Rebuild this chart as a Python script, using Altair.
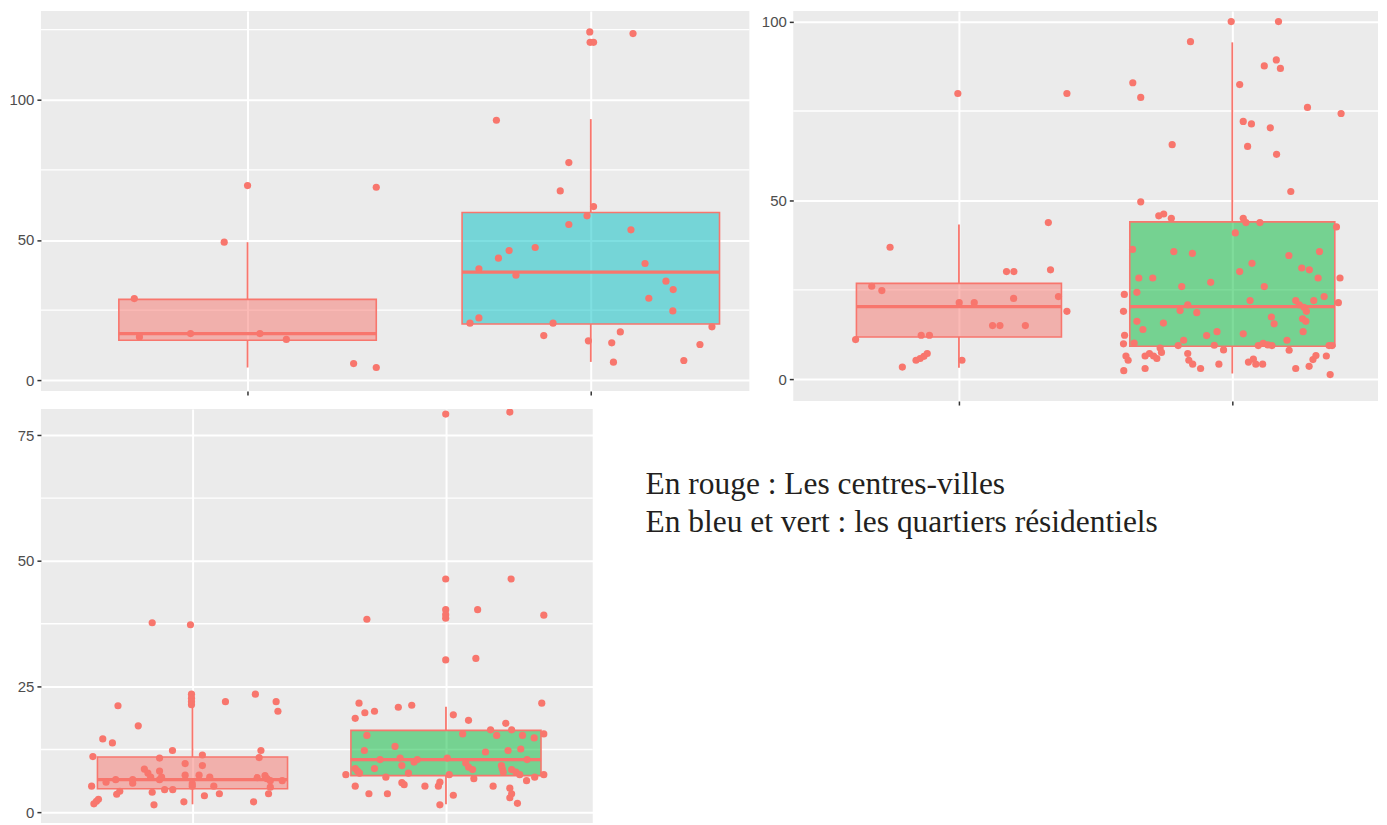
import altair as alt
import pandas as pd

RED = "#F8766D"
CYAN = "#00BFC4"
GREEN = "#00BA38"
GROUPS = ["Centre-ville", "Résidentiel"]
BOX_HALF = 0.375  # ggplot boxplot width 0.75

# ---------------- Panel 1 (top left) ----------------
p1_cv_jit = [0.0, 0.375, -0.068, -0.33, -0.315, -0.166, 0.036, 0.113, 0.309, 0.375]
p1_cv_val = [69.4, 68.8, 49.2, 29.1, 15.4, 16.6, 16.6, 14.5, 5.9, 4.5]
p1_rs_jit = [-0.003, -0.002, 0.008, 0.123, -0.275, -0.064, -0.089, 0.008, -0.011, -0.064,
             0.117, -0.162, -0.238, -0.269, -0.326, -0.218, 0.158, 0.219, 0.240, 0.169,
             0.239, -0.326, -0.352, -0.110, 0.353, -0.137, 0.086, -0.007, 0.061, 0.318,
             0.066, 0.271]
p1_rs_val = [124.2, 120.5, 120.5, 123.6, 92.7, 77.6, 67.5, 61.9, 58.6, 55.5,
             53.6, 47.3, 46.2, 43.5, 39.7, 37.4, 41.6, 35.3, 32.3, 29.2,
             24.7, 22.2, 20.3, 20.3, 19.0, 15.9, 17.2, 14.0, 13.3, 12.7,
             6.4, 7.0]
p1_q1 = [14.2, 20.0]
p1_med = [16.6, 38.5]
p1_q3 = [28.8, 59.8]
p1_lo = [4.5, 6.5]
p1_hi = [49.2, 93.1]

# ---------------- Panel 2 (top right) ----------------
p2_cv_jit = [-0.004, 0.395, -0.252, 0.327, -0.319, -0.282, 0.174, 0.201, 0.335, 0.364,
             0.2, 0.001, 0.056, 0.395, -0.378, -0.138, -0.108, 0.123, 0.150, 0.243,
             -0.207, -0.157, -0.142, -0.128, -0.116, 0.011]
p2_cv_val = [79.9, 79.9, 36.9, 43.8, 26.0, 24.8, 30.1, 30.1, 30.6, 23.1,
             22.6, 21.4, 21.4, 19.0, 11.1, 12.3, 12.3, 15.0, 15.0, 15.0,
             3.4, 5.3, 5.8, 6.4, 7.2, 5.3]
p2_rs_jit = [-0.004, 0.169, -0.153, 0.161, 0.117, 0.176, -0.364, -0.335, 0.027, 0.275,
             0.398, 0.040, 0.070, 0.139, -0.220, 0.056, 0.162, 0.214, -0.335, -0.269,
             -0.251, -0.223, 0.040, 0.050, 0.101, 0.011, 0.381, -0.365, -0.214, -0.146,
             0.207, 0.319, 0.072, 0.254, 0.282, 0.027, 0.314, -0.342, -0.291, 0.394,
             -0.079, -0.185, 0.117, -0.395, -0.349, 0.336, 0.388, 0.065, 0.232, 0.245,
             0.262, 0.271, 0.298, -0.163, -0.191, -0.130, -0.398, 0.143, 0.153, 0.257,
             0.269, -0.349, -0.252, -0.327, -0.056, -0.094, 0.040, 0.259, -0.394, -0.398,
             -0.359, -0.178, -0.198, 0.200, -0.066, -0.032, 0.095, 0.113, 0.130, 0.145,
             0.208, 0.354, 0.365, -0.264, -0.259, -0.389, -0.381, -0.397, -0.319, -0.303,
             -0.288, -0.276, -0.319, -0.163, -0.159, -0.145, -0.116, -0.049, 0.059, 0.077,
             0.086, 0.111, 0.232, 0.281, 0.295, 0.306, 0.344, 0.358]
p2_rs_val = [100.0, 100.0, 94.4, 89.3, 87.6, 86.9, 82.9, 78.8, 82.4, 76.0,
             74.3, 72.1, 71.4, 70.3, 65.6, 65.1, 62.9, 52.5, 49.6, 45.7,
             46.2, 45.0, 45.0, 43.8, 43.8, 40.9, 42.6, 36.3, 35.7, 35.2,
             34.6, 35.7, 32.4, 31.1, 30.6, 30.1, 28.3, 28.3, 28.3, 28.3,
             27.1, 25.9, 25.9, 23.7, 24.3, 23.1, 21.4, 22.0, 22.0, 20.8,
             20.1, 19.0, 22.0, 20.8, 19.2, 18.6, 19.0, 17.4, 15.5, 16.9,
             16.2, 16.2, 15.7, 13.9, 13.3, 12.2, 12.7, 13.3, 12.3, 9.9,
             10.1, 10.9, 9.4, 10.9, 9.5, 8.2, 9.4, 10.0, 9.6, 9.4,
             8.1, 9.4, 9.4, 8.7, 7.5, 6.5, 5.3, 2.4, 6.5, 7.2,
             6.5, 5.8, 3.0, 7.2, 5.3, 4.2, 3.0, 4.2, 4.8, 5.6,
             4.2, 4.2, 3.0, 3.6, 5.5, 6.6, 6.5, 1.3]
p2_q1 = [11.8, 9.2]
p2_med = [20.3, 20.3]
p2_q3 = [26.8, 44.0]
p2_lo = [3.2, 1.6]
p2_hi = [43.3, 94.2]

# ---------------- Panel 3 (bottom left) ----------------
p3_cv_jit = [-0.004, -0.004, -0.004, -0.004, -0.294, 0.130, 0.248, 0.330, 0.337, -0.214,
             -0.354, -0.316, -0.393, -0.079, -0.130, 0.039, 0.270, 0.263, -0.029, 0.039,
             -0.190, -0.176, -0.165, -0.130, -0.029, 0.026, 0.068, -0.130, -0.122, -0.341,
             -0.303, -0.236, -0.236, -0.001, 0.255, 0.286, 0.294, 0.307, 0.307, 0.300,
             0.354, -0.398, 0.084, -0.287, -0.299, -0.159, -0.110, -0.078, 0.047, 0.106,
             -0.389, -0.379, -0.371, -0.152, -0.034, 0.241, -0.008, -0.159, -0.001]
p3_cv_val = [23.5, 22.7, 22.0, 21.4, 21.2, 22.0, 23.5, 22.0, 20.1, 17.2,
             14.6, 13.8, 11.1, 12.3, 10.8, 11.4, 12.3, 10.9, 9.7, 9.3,
             8.6, 7.8, 7.0, 8.2, 7.4, 7.4, 7.0, 6.5, 7.0, 6.0,
             6.5, 6.5, 5.8, 5.7, 6.9, 7.3, 6.7, 6.3, 5.0, 3.7,
             6.3, 5.2, 5.2, 4.2, 3.6, 4.0, 4.5, 4.5, 3.3, 3.7,
             1.7, 2.2, 2.6, 1.5, 2.1, 2.1, 37.3, 37.7, 5.2]
p3_rs_jit = [-0.001, 0.252, -0.001, 0.257, -0.001, -0.001, -0.001, 0.125, -0.312, 0.386,
             -0.001, 0.118, -0.343, -0.135, -0.188, 0.378, -0.282, -0.320, -0.358, 0.029,
             0.089, 0.236, 0.259, 0.176, 0.066, 0.200, 0.302, 0.348, 0.386, -0.312,
             -0.201, -0.322, 0.156, 0.245, 0.295, -0.260, -0.181, -0.174, -0.126, -0.113,
             0.005, 0.078, 0.089, 0.105, 0.219, 0.222, 0.226, 0.259, 0.276, 0.320,
             -0.282, -0.358, -0.349, -0.341, -0.395, -0.237, -0.148, 0.013, 0.110, 0.291,
             0.318, 0.350, 0.386, -0.358, -0.174, -0.165, -0.083, -0.030, -0.024, 0.186,
             -0.304, -0.231, 0.029, 0.252, 0.259, 0.252, 0.282, -0.024]
p3_rs_val = [79.2, 79.6, 46.4, 46.4, 40.3, 39.3, 38.6, 40.3, 38.4, 39.2,
             30.3, 30.6, 21.7, 21.3, 20.9, 21.7, 20.1, 19.8, 18.7, 19.4,
             18.3, 17.7, 16.4, 16.4, 15.6, 15.3, 15.3, 14.8, 15.6, 15.3,
             13.1, 12.3, 12.0, 12.3, 12.6, 10.5, 10.8, 9.3, 10.0, 10.5,
             10.8, 9.8, 9.0, 8.5, 9.3, 8.7, 8.0, 8.5, 8.0, 10.5,
             8.7, 8.7, 8.2, 7.8, 7.5, 7.0, 7.8, 7.5, 6.7, 7.5,
             6.3, 7.0, 7.5, 5.2, 5.9, 5.5, 5.2, 5.2, 6.0, 5.2,
             3.7, 3.7, 3.4, 4.8, 3.7, 2.9, 1.8, 1.5]
p3_q1 = [4.7, 7.3]
p3_med = [6.5, 10.5]
p3_q3 = [11.0, 16.3]
p3_lo = [1.6, 1.6]
p3_hi = [23.6, 21.0]

notes = ["En rouge : Les centres-villes",
         "En bleu et vert : les quartiers résidentiels"]


def make_panel(cv_jit, cv_val, rs_jit, rs_val, q1, med, q3, lo, hi, fills,
               xdom, ydom, yticks, yminor, width, height, yext, xticks=True):
    pts = pd.DataFrame({
        "x": [1 + j for j in cv_jit] + [2 + j for j in rs_jit],
        "v": list(cv_val) + list(rs_val),
    })
    box = pd.DataFrame({
        "g": GROUPS,
        "c": [1, 2],
        "xl": [1 - BOX_HALF, 2 - BOX_HALF],
        "xr": [1 + BOX_HALF, 2 + BOX_HALF],
        "q1": q1, "med": med, "q3": q3, "lo": lo, "hi": hi,
    })
    minor = pd.DataFrame({"m": yminor})

    xs = alt.Scale(domain=xdom, nice=False, zero=False)
    ys = alt.Scale(domain=ydom, nice=False, zero=False)
    xax = alt.Axis(values=[1, 2], labels=False, ticks=xticks, tickSize=4,
                   tickColor="#333333", tickWidth=1.5, grid=True,
                   gridColor="white", gridWidth=2, domain=False,
                   minExtent=4, maxExtent=4)
    yax = alt.Axis(values=yticks, grid=True, gridColor="white", gridWidth=2,
                   domain=False, ticks=True, tickSize=4, tickColor="#333333",
                   tickWidth=1.5, labelColor="#4D4D4D", labelFontSize=15,
                   labelFont="Liberation Sans", labelPadding=3,
                   minExtent=yext, maxExtent=yext)

    minor_l = alt.Chart(minor).mark_rule(color="white", strokeWidth=1.3).encode(
        y=alt.Y("m:Q", scale=ys, axis=yax, title=None))
    rect_l = alt.Chart(box).mark_rect(fillOpacity=0.5, stroke=RED,
                                      strokeWidth=1.6, clip=True).encode(
        x=alt.X("xl:Q", scale=xs, axis=xax, title=None),
        x2="xr:Q",
        y=alt.Y("q1:Q", scale=ys, axis=yax, title=None),
        y2="q3:Q",
        fill=alt.Fill("g:N", scale=alt.Scale(domain=GROUPS, range=fills),
                      legend=None))
    wlo = alt.Chart(box).mark_rule(color=RED, strokeWidth=1.8).encode(
        x=alt.X("c:Q", scale=xs, axis=xax, title=None),
        y=alt.Y("lo:Q", scale=ys, axis=yax, title=None),
        y2="q1:Q")
    whi = alt.Chart(box).mark_rule(color=RED, strokeWidth=1.8).encode(
        x=alt.X("c:Q", scale=xs, axis=xax, title=None),
        y=alt.Y("q3:Q", scale=ys, axis=yax, title=None),
        y2="hi:Q")
    med_l = alt.Chart(box).mark_rule(color=RED, strokeWidth=3.2).encode(
        x=alt.X("xl:Q", scale=xs, axis=xax, title=None),
        x2="xr:Q",
        y=alt.Y("med:Q", scale=ys, axis=yax, title=None))
    pts_l = alt.Chart(pts).mark_circle(size=52, color=RED, opacity=1,
                                       clip=True).encode(
        x=alt.X("x:Q", scale=xs, axis=xax, title=None),
        y=alt.Y("v:Q", scale=ys, axis=yax, title=None))
    return alt.layer(minor_l, rect_l, wlo, whi, med_l, pts_l).properties(
        width=width, height=height)


p1 = make_panel(p1_cv_jit, p1_cv_val, p1_rs_jit, p1_rs_val,
                p1_q1, p1_med, p1_q3, p1_lo, p1_hi, [RED, CYAN],
                [0.398, 2.462], [-3.9, 131.7], [0, 50, 100], [25, 75, 125],
                710, 381, 32)
p2 = make_panel(p2_cv_jit, p2_cv_val, p2_rs_jit, p2_rs_val,
                p2_q1, p2_med, p2_q3, p2_lo, p2_hi, [RED, GREEN],
                [0.394, 2.533], [-6.1, 103.0], [0, 50, 100], [25, 75],
                586, 391, 36)
p3 = make_panel(p3_cv_jit, p3_cv_val, p3_rs_jit, p3_rs_val,
                p3_q1, p3_med, p3_q3, p3_lo, p3_hi, [RED, GREEN],
                [0.402, 2.579], [-2.14, 80.2], [0, 25, 50, 75],
                [12.5, 37.5, 62.5], 553, 415, 32, xticks=False)

text = alt.Chart(pd.DataFrame({"t": ["\n".join(notes)]})).mark_text(
    align="left", baseline="alphabetic", font="Liberation Serif", fontSize=31.5,
    lineHeight=38, lineBreak="\n", color="#231F20").encode(
    text="t:N", x=alt.value(42), y=alt.value(85)).properties(
    width=700, height=150, view=alt.ViewBackground(fill="white", strokeWidth=0))

row1 = alt.hconcat(p1, p2, spacing=7).resolve_scale(fill="independent")
row2 = alt.hconcat(p3, text, spacing=10).resolve_scale(fill="independent")

chart = alt.vconcat(row1, row2, spacing=3).resolve_scale(
    fill="independent"
).properties(
    padding={"left": 0, "top": 2, "right": 0, "bottom": 0}
).configure(font="Liberation Sans").configure_view(fill="#EBEBEB", strokeWidth=0)

chart.save("out.html", embed_options={"renderer": "svg", "actions": False})
